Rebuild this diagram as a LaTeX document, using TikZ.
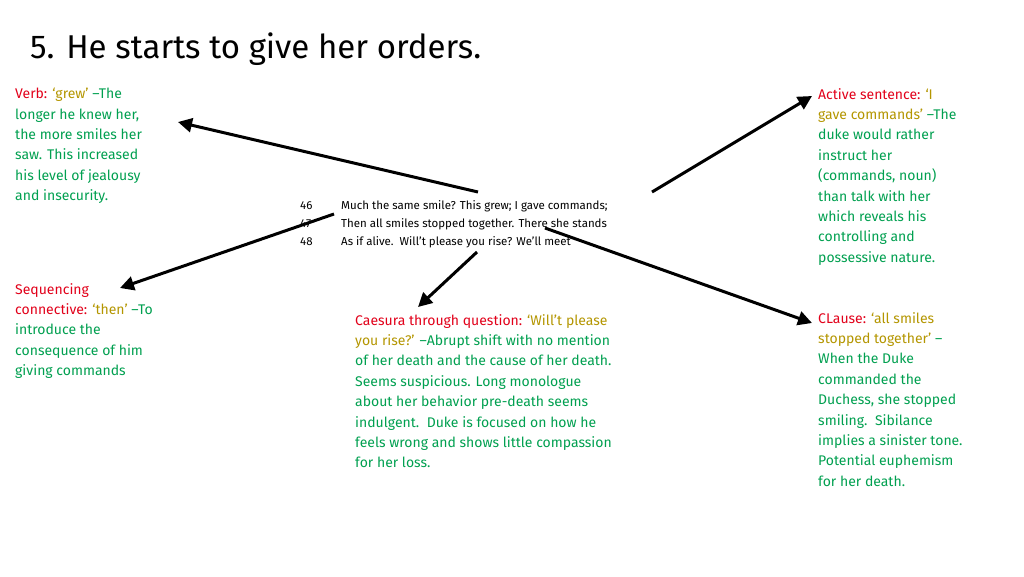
\documentclass[tikz,border=0pt]{standalone}
\usepackage{fontspec}
\setmainfont{Fira Sans}
\usetikzlibrary{arrows.meta}
\definecolor{rd}{RGB}{226,0,26}
\definecolor{gd}{RGB}{180,150,0}
\definecolor{gn}{RGB}{0,160,80}
\tikzset{
 blk/.style={anchor=north west,align=left,inner sep=0pt,font=\fontsize{14}{20.4}\selectfont,text=gn},
 arr/.style={line width=3pt,-{Triangle[length=14pt,width=14pt]}},
 poem/.style={anchor=base west,inner sep=0pt,font=\fontsize{11.5}{14}\selectfont}
}
\newcommand{\R}[1]{\textcolor{rd}{#1}}
\newcommand{\G}[1]{\textcolor{gd}{#1}}
\begin{document}
\begin{tikzpicture}[x=1pt,y=-1pt]
\useasboundingbox[fill=white] (0,0) rectangle (1024,576);
\node[anchor=base west,inner sep=0pt,font=\fontsize{33}{36}\selectfont] (title) at (30,58) {5. He starts to give her orders.};
\node[blk] (verb) at (15,88) {\R{Verb:} \G{‘grew’} –The\\longer he knew her,\\the more smiles her\\saw. This increased\\his level of jealousy\\and insecurity.};
\node[blk] (seq) at (15,283) {\R{Sequencing}\\\R{connective:} \G{‘then’} –To\\introduce the\\consequence of him\\giving commands};
\node[blk] (cae) at (355,314) {\R{Caesura through question:} \G{‘Will’t please}\\\G{you rise?’} –Abrupt shift with no mention\\of her death and the cause of her death.\\Seems suspicious. Long monologue\\about her behavior pre-death seems\\indulgent.\ \ Duke is focused on how he\\feels wrong and shows little compassion\\for her loss.};
\node[blk] (act) at (818,88) {\R{Active sentence:} \G{‘I}\\\G{gave commands’} –The\\duke would rather\\instruct her\\(commands, noun)\\than talk with her\\which reveals his\\controlling and\\possessive nature.};
\node[blk] (cla) at (818,312) {\R{CLause:} \G{‘all smiles}\\\G{stopped together’} –\\When the Duke\\commanded the\\Duchess, she stopped\\smiling.\ \ Sibilance\\implies a sinister tone.\\Potential euphemism\\for her death.};
\node[poem] (n1) at (300,209) {46};
\node[poem] (n2) at (300,227) {47};
\node[poem] (n3) at (300,245) {48};
\node[poem] (l1) at (341,209) {Much the same smile? This grew; I gave commands;};
\node[poem] (l2) at (341,227) {Then all smiles stopped together. There she stands};
\node[poem] (l3) at (341,245) {As if alive.\ \ Will’t please you rise? We’ll meet};
\coordinate (a1) at (478,192); \coordinate (b1) at (178,122);
\coordinate (a2) at (334,214); \coordinate (b2) at (120,288);
\coordinate (a3) at (652,192); \coordinate (b3) at (812,96);
\coordinate (a4) at (545,228); \coordinate (b4) at (812,323);
\coordinate (a5) at (477,252); \coordinate (b5) at (418,307);
\draw[arr] (a1) -- (b1);
\draw[arr] (a2) -- (b2);
\draw[arr] (a3) -- (b3);
\draw[arr] (a4) -- (b4);
\draw[arr] (a5) -- (b5);
\end{tikzpicture}
\end{document}
